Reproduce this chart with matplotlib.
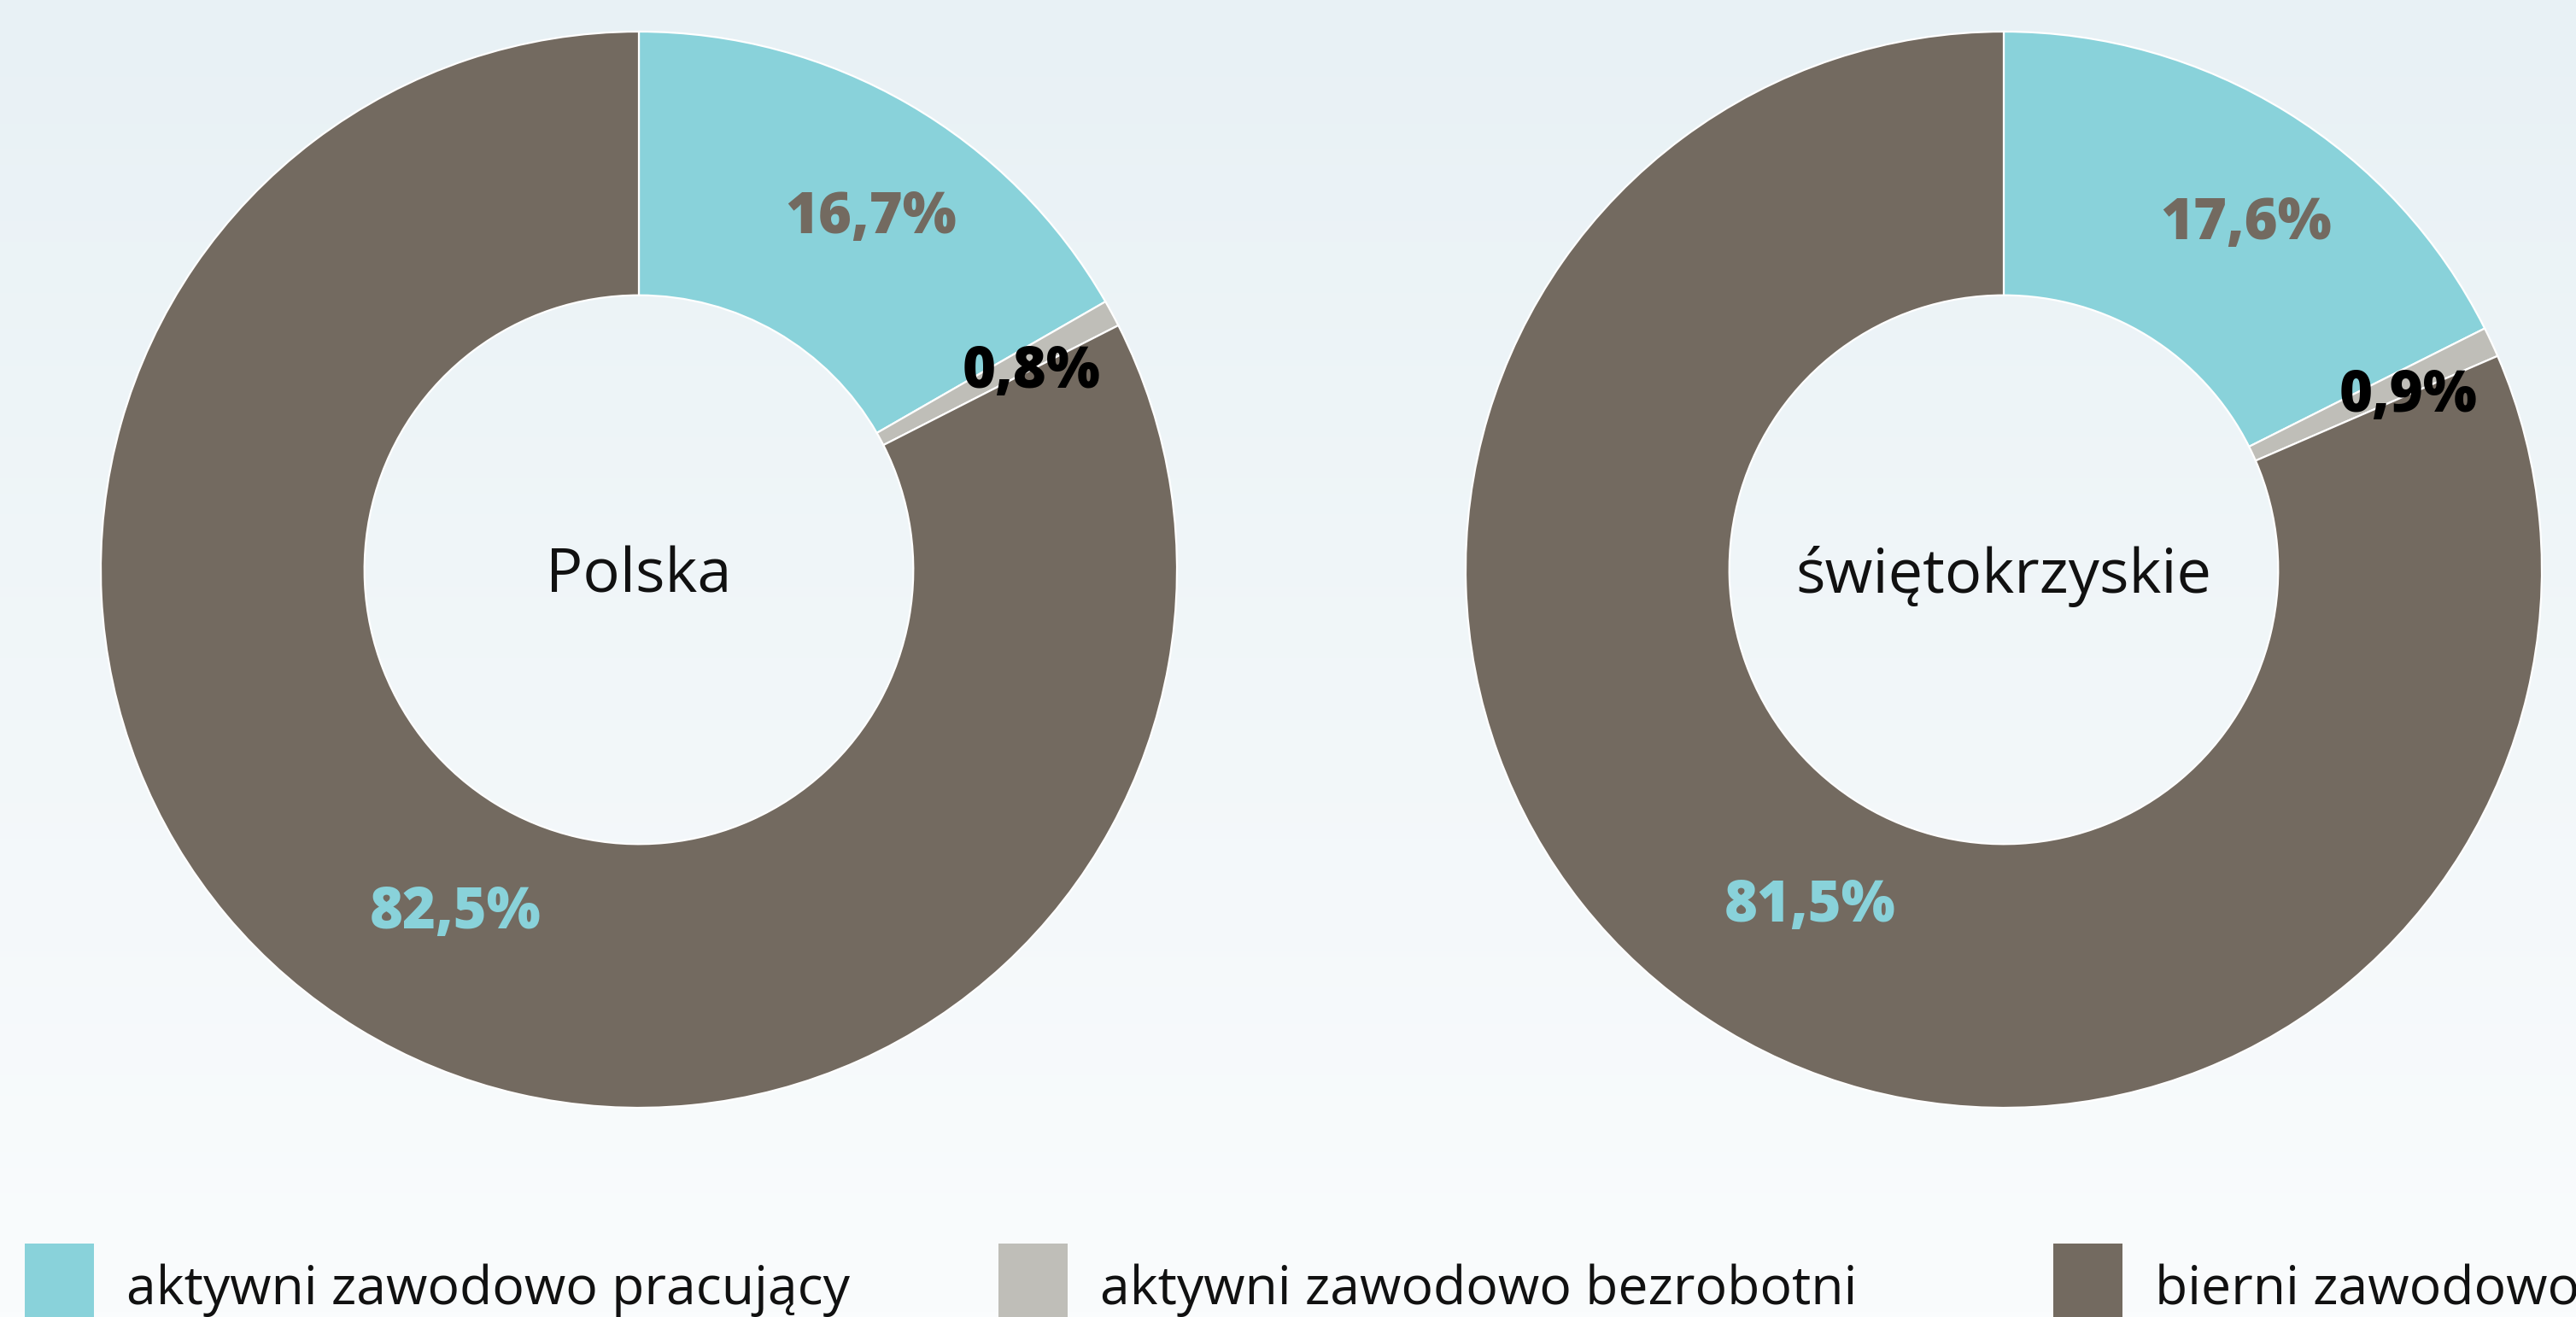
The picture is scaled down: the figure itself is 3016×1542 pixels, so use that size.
import numpy as np
import matplotlib
matplotlib.use("Agg")
import matplotlib.pyplot as plt
from matplotlib.patches import Rectangle

# ---- data ----
categories = ["aktywni zawodowo pracujący", "aktywni zawodowo bezrobotni", "bierni zawodowo"]
regions = ["Polska", "świętokrzyskie"]
polska_values = [16.7, 0.8, 82.5]
swietokrzyskie_values = [17.6, 0.9, 81.5]

# ---- styles ----
colors = ["#89D2DA", "#BFBEB8", "#736A60"]
label_colors = ["#736A60", "#000000", "#89D2DA"]
label_radius = [0.79, 0.83, 0.71]
label_dx = [0.035, 0.0, 0.03]
label_dy = [-0.03, -0.03, -0.033]

W, H = 3016, 1542
fig = plt.figure(figsize=(W / 100, H / 100), dpi=100)

# background gradient
bg = fig.add_axes([0, 0, 1, 1], zorder=-10)
top = np.array([0xE8, 0xF1, 0xF5]) / 255
bot = np.array([0xFA, 0xFC, 0xFD]) / 255
t = np.linspace(0, 1, 256)[:, None]
grad = top[None, None, :] * (1 - t[:, :, None]) + bot[None, None, :] * t[:, :, None]
grad = np.repeat(grad, 2, axis=1)
bg.imshow(grad, aspect="auto", extent=[0, 1, 0, 1])
bg.axis("off")

R = 630
centers = [(748, 667), (2346, 667)]
all_values = [polska_values, swietokrzyskie_values]

for (cx, cy), vals, name in zip(centers, all_values, regions):
    ax = fig.add_axes([(cx - R) / W, (H - cy - R) / H, 2 * R / W, 2 * R / H])
    ax.set_facecolor("none")
    wedges, _ = ax.pie(vals, colors=colors, startangle=90, counterclock=False,
                       radius=1.0,
                       wedgeprops=dict(width=0.49, edgecolor="white", linewidth=1.6))
    for i, (w, v) in enumerate(zip(wedges, vals)):
        mid = np.deg2rad((w.theta1 + w.theta2) / 2)
        r = label_radius[i]
        ax.text(r * np.cos(mid) + label_dx[i], r * np.sin(mid) + label_dy[i],
                f"{v:.1f}%".replace(".", ","),
                ha="center", va="center", fontsize=48, fontweight="heavy",
                family="Open Sans", color=label_colors[i])
    ax.text(0, -0.012, name, ha="center", va="center", fontsize=52,
            family="Open Sans", color="#111111")
    ax.set_xlim(-1, 1)
    ax.set_ylim(-1, 1)
    ax.set_aspect("equal")
    ax.axis("off")

# legend
leg_x = [29, 1169, 2404]
for x, c, lab in zip(leg_x, colors, categories):
    fig.patches.append(Rectangle((x / W, 0), 81 / W, (1542 - 1456) / H,
                                 transform=fig.transFigure, facecolor=c, edgecolor="none"))
    fig.text((x + 119) / W, (H - 1527) / H, lab, ha="left", va="baseline",
             fontsize=45, family="Open Sans", color="#111111")

fig.savefig("out.png", dpi=100)
